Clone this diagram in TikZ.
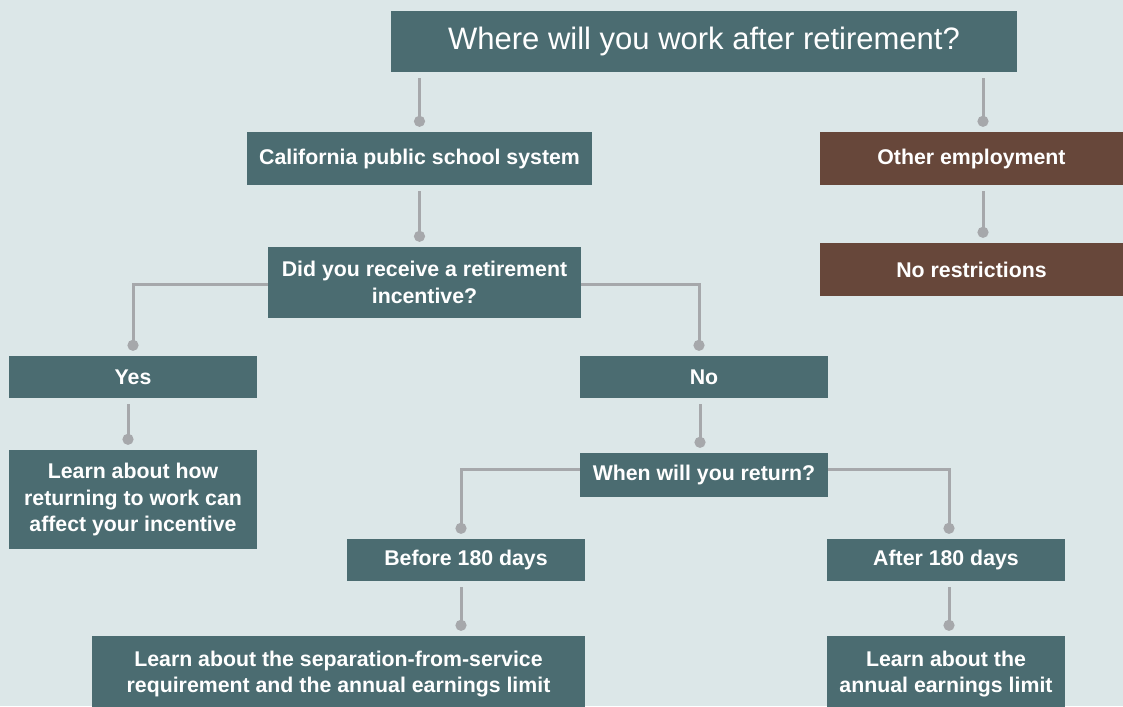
\documentclass[tikz,border=0pt]{standalone}
\usepackage{fontspec}
\setmainfont{Liberation Sans}
\usetikzlibrary{arrows.meta}
\definecolor{bgc}{HTML}{DCE7E8}
\definecolor{teal}{HTML}{4B6C71}
\definecolor{brown}{HTML}{67473A}
\definecolor{conc}{HTML}{A6A8AB}
\tikzset{
  box/.style={fill=teal,text=white,inner sep=0pt,align=center,font=\bfseries\fontsize{21.3}{26.5}\selectfont},
  bbox/.style={box,fill=brown},
  conn/.style={draw=conc,line width=3pt,-{Circle[length=11pt,width=11pt]}},
  vconn/.style={conn,shorten <=6pt,shorten >=5pt},
  hconn/.style={conn,shorten >=5pt}
}
\begin{document}
\begin{tikzpicture}[x=1pt,y=-1pt]
\useasboundingbox (0,0) rectangle (1123,706);
\fill[bgc] (0,0) rectangle (1123,706);
\node[box,minimum width=626pt,minimum height=61pt,font=\fontsize{31}{36}\selectfont] (top) at (704,41.5) {Where will you work after retirement?};
\node[box,minimum width=345pt,minimum height=53pt] (cal) at (419.5,158.5) {California public school system};
\node[bbox,minimum width=303pt,minimum height=53pt] (oth) at (971.5,158.5) {Other employment};
\node[bbox,minimum width=303pt,minimum height=53pt] (nor) at (971.5,269.5) {No restrictions};
\node[box,minimum width=313pt,minimum height=71pt] (did) at (424.5,282.5) {Did you receive a retirement\\incentive?};
\node[box,minimum width=248pt,minimum height=42pt] (yes) at (133,377) {Yes};
\node[box,minimum width=248pt,minimum height=42pt] (no) at (704,377) {No};
\node[box,minimum width=248pt,minimum height=99pt] (lhow) at (133,499.5) {Learn about how\\returning to work can\\affect your incentive};
\node[box,minimum width=248pt,minimum height=44pt] (when) at (704,475) {When will you return?};
\node[box,minimum width=238pt,minimum height=42pt] (bef) at (466,560) {Before 180 days};
\node[box,minimum width=238pt,minimum height=42pt] (aft) at (946,560) {After 180 days};
\node[box,minimum width=493pt,minimum height=76pt] (lsep) at (338.5,674) {Learn about the separation-from-service\\requirement and the annual earnings limit};
\node[box,minimum width=238pt,minimum height=76pt] (lann) at (946,674) {Learn about the\\annual earnings limit};
\coordinate (othin) at ([xshift=11.5pt]oth.north);
\draw[vconn] (top.south -| cal.north) -- (cal.north);
\draw[vconn] (top.south -| othin) -- (othin);
\draw[vconn] (oth.south -| othin) -- (nor.north -| othin);
\draw[vconn] (cal.south) -- (did.north -| cal.south);
\draw[hconn] ([yshift=-1.5pt]did.west) -| (yes.north);
\draw[hconn] ([yshift=-1.5pt]did.east) -| ([xshift=-5pt]no.north);
\draw[vconn] ([xshift=-5pt]yes.south) -- ([xshift=-5pt]lhow.north);
\draw[vconn] ([xshift=-4pt]no.south) -- ([xshift=-4pt]when.north);
\draw[hconn] ([yshift=6pt]when.west) -| ([xshift=-5pt]bef.north);
\draw[hconn] ([yshift=6pt]when.east) -| ([xshift=3pt]aft.north);
\draw[vconn] ([xshift=-5pt]bef.south) -- ([xshift=-5pt]bef.south |- lsep.north);
\draw[vconn] ([xshift=3pt]aft.south) -- ([xshift=3pt]lann.north);
\end{tikzpicture}
\end{document}
